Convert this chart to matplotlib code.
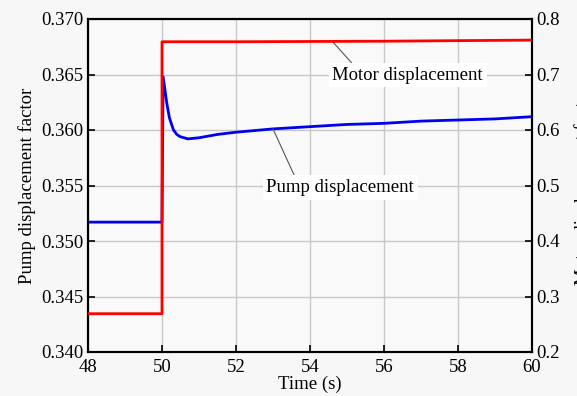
import matplotlib
matplotlib.use('Agg')
import matplotlib.pyplot as plt
import numpy as np

plt.rcParams['font.family'] = ['Liberation Serif', 'DejaVu Serif']
plt.rcParams['font.size'] = 13.5

# pump displacement factor (left axis)
pump_t = [48, 50.0, 50.03, 50.13, 50.2, 50.31, 50.4, 50.49, 50.7, 51.0, 51.5, 52, 53, 54, 55, 56, 57, 58, 59, 60]
pump_v = [0.3517, 0.3517, 0.3648, 0.3624, 0.3611, 0.3600, 0.3596, 0.3594, 0.3592, 0.3593, 0.3596, 0.3598,
          0.3601, 0.3603, 0.3605, 0.3606, 0.3608, 0.3609, 0.3610, 0.3612]

# motor displacement factor (right axis)
motor_t = [48, 50.0, 50.0, 52, 56, 60]
motor_v = [0.269, 0.269, 0.759, 0.759, 0.760, 0.762]

fig = plt.figure(figsize=(5.77, 3.96), dpi=100, facecolor='#f7f7f7')
ax = fig.add_axes([88/577, 1-352/396, (532-88)/577, (352-19)/396])
ax.set_facecolor('#f9f9f9')
ax2 = ax.twinx()

ax.plot(pump_t, pump_v, color='#0000ee', lw=2, zorder=3)
ax2.plot(motor_t, motor_v, color='#ff0000', lw=2, zorder=4)

ax.set_xlim(48, 60)
ax.set_ylim(0.340, 0.370)
ax2.set_ylim(0.2, 0.8)
ax.set_xticks(np.arange(48, 61, 2))
ax.set_yticks(np.arange(0.340, 0.3701, 0.005))
ax.set_yticklabels(['%.3f' % v for v in np.arange(0.340, 0.3701, 0.005)])
ax2.set_yticks(np.arange(0.2, 0.801, 0.1))
ax2.set_yticklabels(['%.1f' % v for v in np.arange(0.2, 0.801, 0.1)])

ax.grid(True, color='#c8c8c8', lw=1)
ax.set_axisbelow(True)
ax.tick_params(direction='in', length=5, width=1.2, pad=3)
ax.tick_params(axis='x', pad=5)
ax2.tick_params(direction='in', length=5, width=1.2, pad=3)
for a in (ax, ax2):
    for s in a.spines.values():
        s.set_linewidth(1.5)

ax.set_xlabel('Time (s)', labelpad=0)
ax.set_ylabel('Pump displacement factor', labelpad=4)
ax2.set_ylabel('Motor displacement factor', rotation=90)
ax2.yaxis.set_label_coords(1.095, 0.5)

bbox = dict(boxstyle='square,pad=0.2', fc='white', ec='none')
ax2.annotate('Motor displacement', xy=(54.6, 0.760), xytext=(56.64, 0.699),
             ha='center', va='center', bbox=bbox,
             arrowprops=dict(arrowstyle='-', color='#555555', lw=0.8, shrinkA=0, shrinkB=0,
                             relpos=(0.15, 1.0)))
ax.annotate('Pump displacement', xy=(53.0, 0.3601), xytext=(54.82, 0.3548),
            ha='center', va='center', bbox=bbox,
            arrowprops=dict(arrowstyle='-', color='#555555', lw=0.8, shrinkA=0, shrinkB=0,
                            relpos=(0.2, 1.0)))

fig.savefig('out.png', dpi=100, facecolor=fig.get_facecolor())
